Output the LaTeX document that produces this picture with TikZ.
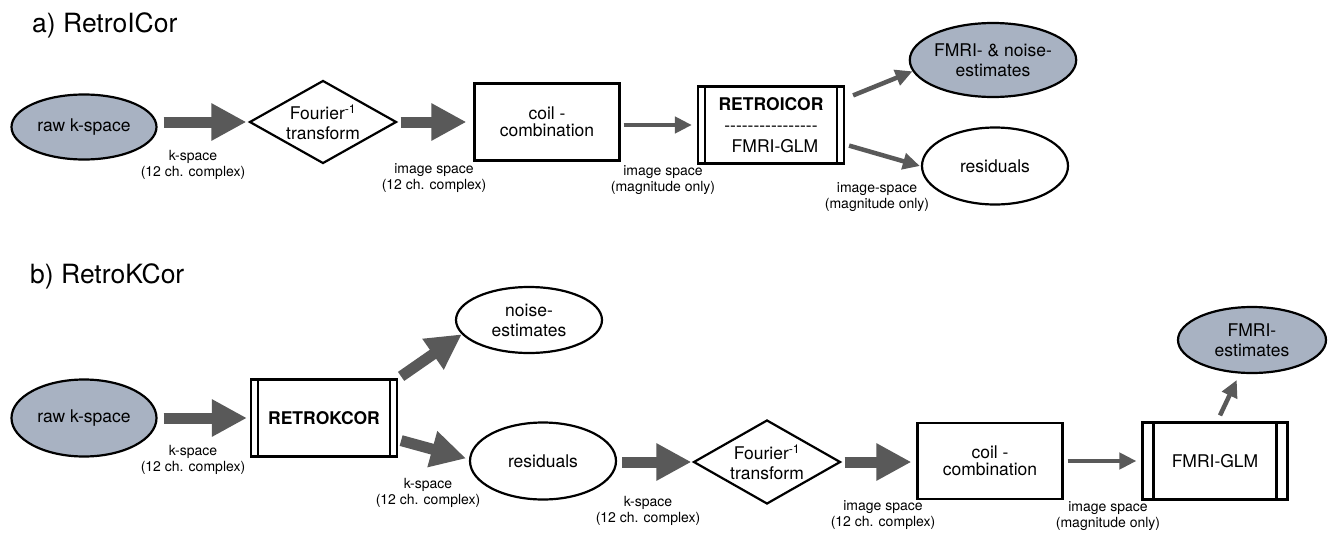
\documentclass[tikz,border=0pt]{standalone}
\usepackage{fontspec}
\setmainfont{TeX Gyre Heros}
\usetikzlibrary{shapes.geometric,arrows.meta}
\definecolor{nodefill}{RGB}{168,178,194}
\definecolor{arrowgray}{RGB}{89,89,89}
\tikzset{
  base/.style={draw=black, line width=2.2pt, inner sep=0pt, align=center,
    font=\fontsize{17.5}{20}\selectfont},
  oval/.style={base, ellipse},
  grayoval/.style={oval, fill=nodefill},
  rhombus/.style={base, diamond, aspect=1.77},
  boxnode/.style={base, rectangle},
  barbox/.style={boxnode, path picture={
      \draw[line width=2.2pt] ([xshift=#1]path picture bounding box.north west) -- ([xshift=#1]path picture bounding box.south west);
      \draw[line width=2.2pt] ([xshift=-#1]path picture bounding box.north east) -- ([xshift=-#1]path picture bounding box.south east);}},
  bigarrow/.style={draw=arrowgray, line width=11pt, -{Triangle[length=35pt,width=35pt]}, arrowgray},
  smallarrow/.style={draw=arrowgray, line width=4.5pt, -{Triangle[length=17pt,width=16pt]}, arrowgray},
  lbl/.style={align=center, inner sep=0pt, font=\fontsize{14}{16}\selectfont},
  ttl/.style={anchor=base west, inner sep=0pt, font=\fontsize{26.5}{30}\selectfont}
}
\begin{document}
\begin{tikzpicture}[x=1pt,y=-1pt]
\useasboundingbox (0,0) rectangle (1334,533);
\fill[white] (0,0) rectangle (1334,533);

% ---------- panel a ----------
\node[ttl] (ta) at (32,32) {a) RetroICor};
\node[grayoval, minimum width=145pt, minimum height=65pt] (rawa) at (84,127) {raw k-space};
\node[rhombus, minimum width=147pt, minimum height=83pt] (fta) at (323,122) {Fourier\textsuperscript{-1}\\transform};
\node[boxnode, minimum width=145pt, minimum height=77pt, font=\fontsize{17.5}{17}\selectfont] (coila) at (547,122) {coil -\\combination};
\node[barbox=7pt, minimum width=146pt, minimum height=77pt, font=\fontsize{17.5}{21}\selectfont] (ricor) at (771,125) {\textbf{RETROICOR}\\-{}-{}-{}-{}-{}-{}-{}-{}-{}-{}-{}-{}-{}-{}-{}-{}\\\hspace*{8pt}FMRI-GLM};
\node[grayoval, minimum width=146pt, minimum height=74pt] (fmria) at (993,60) {FMRI- \& noise-\\estimates};
\node[oval, minimum width=146pt, minimum height=77pt] (resa) at (995,166) {residuals};

\node[lbl] (la1) at (193,165) {k-space\\(12 ch. complex)};
\node[lbl] (la2) at (434,178) {image space\\(12 ch. complex)};
\node[lbl] (la3) at (663,180) {image space\\(magnitude only)};
\node[lbl] (la4) at (877,197) {image-space\\(magnitude only)};

\draw[bigarrow] ([xshift=6pt]rawa.east |- fta.west) -- ([xshift=-2pt]fta.west);
\draw[bigarrow] ([xshift=3pt]fta.east) -- ([xshift=-7pt]coila.west);
\draw[smallarrow] ([shift={(3,3)}]coila.east) -- ([xshift=-5pt]ricor.west);
\draw[smallarrow] ([shift={(8,10)}]ricor.north east) -- (fmria.188);
\draw[smallarrow] ([shift={(4,-19)}]ricor.south east) -- ([xshift=-1pt]resa.west);

% ---------- panel b ----------
\node[ttl] (tb) at (30,283) {b) RetroKCor};
\node[grayoval, minimum width=145pt, minimum height=77pt] (rawb) at (84,418) {raw k-space};
\node[barbox=7pt, minimum width=146pt, minimum height=77pt] (rkcor) at (324,418) {\textbf{RETROKCOR}};
\node[oval, minimum width=146pt, minimum height=66pt] (noise) at (529,320) {noise-\\estimates};
\node[oval, minimum width=146pt, minimum height=77pt] (resb) at (543,461) {residuals};
\node[rhombus, minimum width=147pt, minimum height=84pt] (ftb) at (767,462) {Fourier\textsuperscript{-1}\\transform};
\node[boxnode, minimum width=145pt, minimum height=76pt, font=\fontsize{17.5}{17}\selectfont] (coilb) at (990,461) {coil -\\combination};
\node[barbox=11pt, minimum width=145pt, minimum height=77pt] (glmb) at (1215,461) {FMRI-GLM};
\node[grayoval, minimum width=148pt, minimum height=66pt] (fmrib) at (1252,340) {FMRI-\\estimates};

\node[lbl] (lb1) at (193,460) {k-space\\(12 ch. complex)};
\node[lbl] (lb2) at (428,493) {k-space\\(12 ch. complex)};
\node[lbl] (lb3) at (648,511) {k-space\\(12 ch. complex)};
\node[lbl] (lb4) at (883,515) {image space\\(12 ch. complex)};
\node[lbl] (lb5) at (1108,516) {image space\\(magnitude only)};

\draw[bigarrow] ([xshift=6pt]rawb.east) -- ([xshift=-3pt]rkcor.west);
\draw[bigarrow] ([shift={(3,-2)}]rkcor.north east) -- (noise.192);
\draw[bigarrow] ([shift={(3,-17)}]rkcor.south east) -- ([xshift=-3pt]resb.178);
\draw[bigarrow] ([xshift=5pt]resb.east |- ftb.west) -- ([xshift=-1pt]ftb.west);
\draw[bigarrow] ([xshift=3pt]ftb.east) -- ([xshift=-5pt]coilb.west |- ftb.east);
\draw[smallarrow] ([xshift=4pt]coilb.east) -- ([xshift=-5pt]glmb.west);
\draw[smallarrow, shorten >=7pt] ([shift={(5,-6)}]glmb.north) -- (fmrib.250);
\end{tikzpicture}
\end{document}
